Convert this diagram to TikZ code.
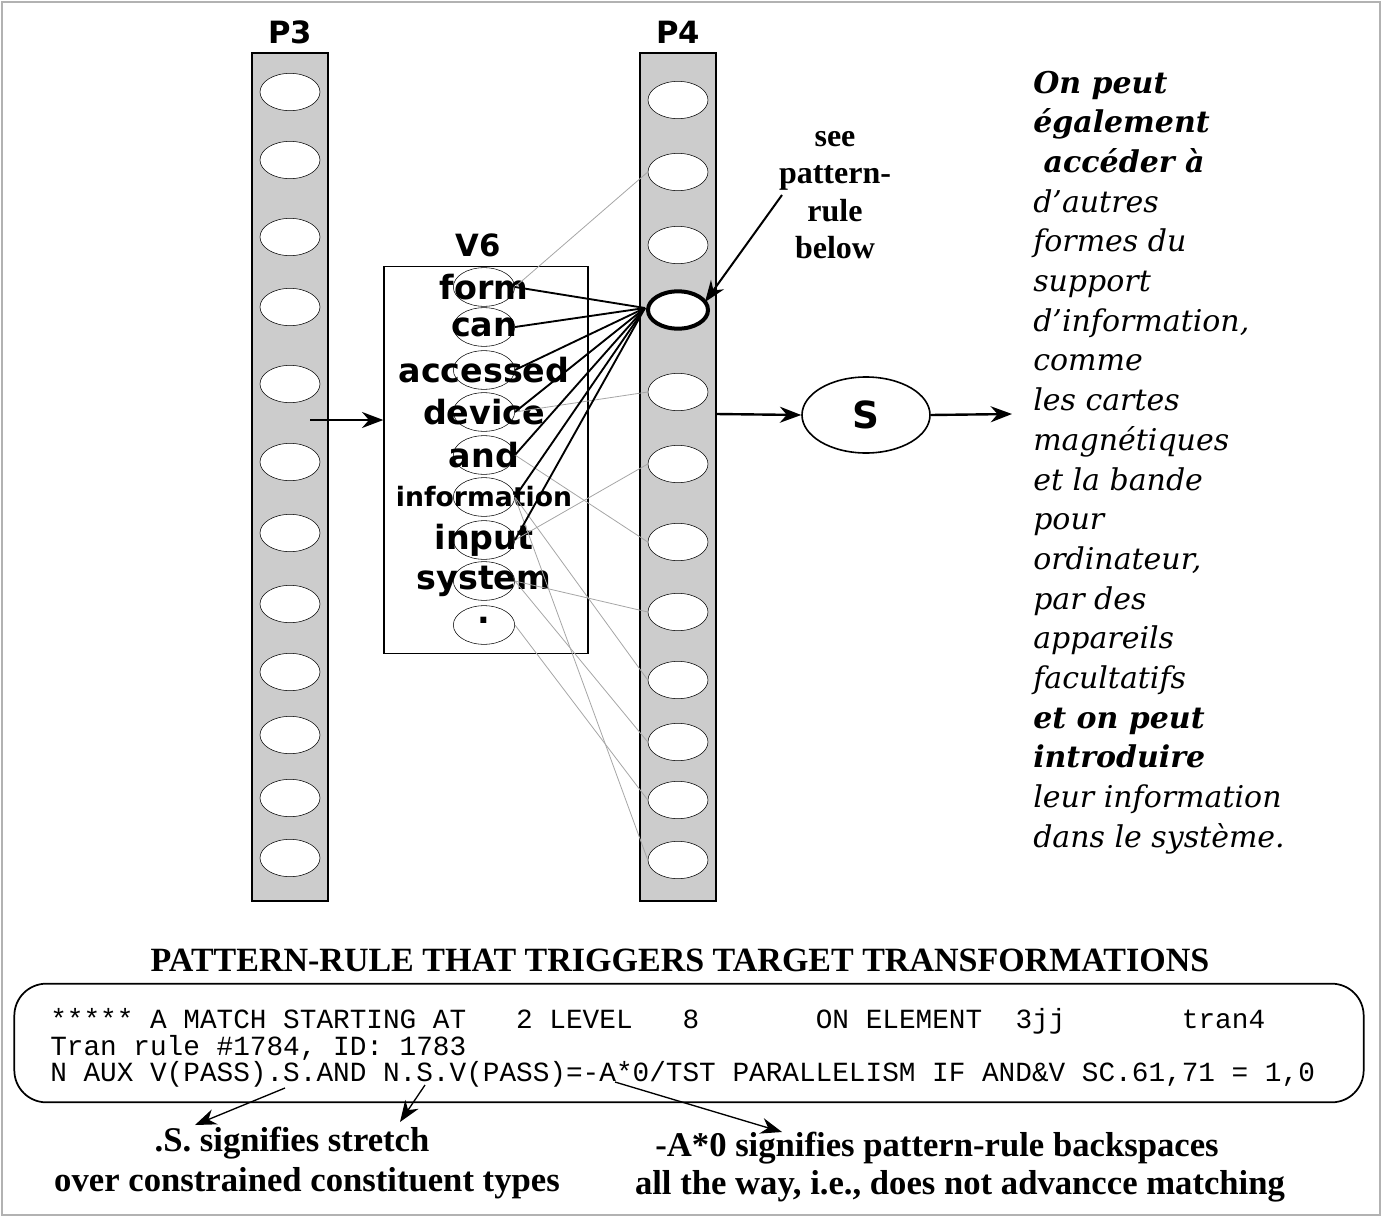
\documentclass[tikz,border=0pt]{standalone}
\usepackage{fontspec}
\setmainfont{DejaVu Serif}
\newfontfamily\dsans{DejaVu Sans}
\newfontfamily\lmono{Liberation Mono}
\newfontfamily\lserif{Liberation Serif}
\usetikzlibrary{arrows.meta,shapes.geometric}
\begin{document}
\begin{tikzpicture}[x=0.75pt,y=-0.75pt,
  bar/.style={draw,line width=1.2pt,fill=gray!40},
  cell/.style={draw,fill=white,ellipse,minimum width=45pt,minimum height=28pt,inner sep=0pt},
  wcell/.style={draw,fill=none,ellipse,minimum width=46pt,minimum height=29pt,inner sep=0pt},
  word/.style={font=\dsans\bfseries\fontsize{25}{25}\selectfont,inner sep=0pt},
  fr/.style={font=\fontsize{22.5}{24}\selectfont\itshape,anchor=base west,inner sep=0pt},
  arr/.style={-{Stealth[length=16pt,width=12pt]},line width=1.8pt},
  thin/.style={draw=gray!70,line width=0.6pt},
  lab/.style={font=\lserif\bfseries\fontsize{26}{26}\selectfont,inner sep=0pt}]
\useasboundingbox (0,0) rectangle (1382,1217);
\draw[gray!60,line width=1pt] (2,2) rectangle (1380,1215);
% bars
\node[bar,minimum width=57pt,minimum height=636pt,inner sep=0pt] (p3) at (290,477) {};
\node[bar,minimum width=57pt,minimum height=636pt,inner sep=0pt] (p4) at (678,477) {};
\node[font=\dsans\bfseries\fontsize{23}{23}\selectfont] (p3l) at (290,32) {P3};
\node[font=\dsans\bfseries\fontsize{23}{23}\selectfont] (p4l) at (678,32) {P4};
\foreach \y [count=\i] in {92,160,237,307,384,462,533,604,672,735,798,858}
  \node[cell] (a\i) at (290,\y) {};
\foreach \y [count=\i] in {100,172,245,310,392,464,542,612,680,742,800,860}
  \node[cell] (b\i) at (678,\y) {};
\node[cell,line width=3pt] at (b4) {};
% V6
\node[draw,line width=1pt,minimum width=153pt,minimum height=290pt,inner sep=0pt] (v6) at (486,460) {};
\node[font=\dsans\bfseries\fontsize{23}{23}\selectfont] (v6l) at (478,245) {V6};
\foreach \y [count=\i] in {287,327,370,412,455,497,540,581,625}
  \node[wcell] (c\i) at (484,\y) {};
\node[word] (w1) at (484,287) {form};
\node[word] (w2) at (484,327) {can};
\node[word] (w3) at (484,370) {accessed};
\node[word] (w4) at (484,412) {device};
\node[word] (w5) at (484,455) {and};
\node[word,font=\dsans\bfseries\fontsize{20}{20}\selectfont] (w6) at (484,497) {information};
\node[word] (w7) at (484,540) {input};
\node[word] (w8) at (484,581) {system};
\node[word] (w9) at (484,620) {.};
% connectors
\coordinate (hub) at (645,308);
\foreach \a/\b in {c1/b2, c4/b5, c7/b6, c5/b7, c6/b9, c8/b10, c9/b11, c6/b12, c8/b8}
  \draw[thin] (\a.east) -- (\b.west);
\foreach \c in {c1,c2,c3,c4,c5,c6,c7}
  \draw[line width=1.4pt] (\c.east) -- (hub);
% arrows
\coordinate (p3r) at (310,420);
\draw[arr] (p3r) -- (v6.west|-p3r);
\node[draw,ellipse,line width=1.2pt,minimum width=96pt,minimum height=57pt] (s) at (866,415) {\dsans\bfseries\fontsize{28}{28}\selectfont S};
\coordinate (p4r) at (716,414);
\draw[arr] (p4r) -- (s.west);
\coordinate (sout) at (1012,414);
\draw[arr] (s.east) -- (sout);
\node[font=\lserif\bfseries\fontsize{24}{28}\selectfont,align=center] (see) at (835,195) {see\\pattern-\\rule\\below};
\coordinate (seeT) at (705,302);
\draw[arr,line width=1.5pt] (782,195) -- (seeT);
% French text
\foreach \t [count=\i] in {{\bfseries On peut},{\bfseries également},{\bfseries\ accéder à},d'autres,formes du,support,{d'information,},comme,les cartes,magnétiques,et la bande,pour,{ordinateur,},par des,appareils,facultatifs,{\bfseries et on peut},{\bfseries introduire},leur information,dans le système.}
  \node[fr] (f\i) at (1033,{93+(\i-1)*39.7}) {\t};
% pattern rule
\node[font=\lserif\bfseries\fontsize{25.5}{25}\selectfont] (title) at (680,960) {PATTERN-RULE THAT TRIGGERS TARGET TRANSFORMATIONS};
\node[draw,line width=1.3pt,rounded corners=24pt,minimum width=1012pt,minimum height=89pt] (rb) at (689,1043) {};
\node[font=\lmono\fontsize{20.8}{20}\selectfont,anchor=west,align=left,inner sep=0pt] (code) at (50,1048)
  {***** A MATCH STARTING AT\ \ \ 2 LEVEL\ \ \ 8\ \ \ \ \ \ \ ON ELEMENT\ \ 3jj\ \ \ \ \ \ \ tran4\\Tran rule \#1784, ID: 1783\\N AUX V(PASS).S.AND N.S.V(PASS)=-A*0/TST PARALLELISM IF AND\&V SC.61,71 = 1,0};
\node[lab] (l1) at (292,1143) {.S. signifies stretch};
\node[lab] (l2) at (307,1183) {over constrained constituent types};
\node[lab] (l3) at (937,1148) {-A*0 signifies pattern-rule backspaces};
\node[lab] (l4) at (960,1186) {all the way, i.e., does not advancce matching};
\coordinate (q1) at (285,1088);
\coordinate (q2) at (425,1085);
\coordinate (q3) at (615,1082);
\draw[arr,line width=1pt] (q1) -- (195,1125);
\draw[arr,line width=1pt] (q2) -- (400,1122);
\draw[arr,line width=1pt] (q3) -- (782,1132);
\end{tikzpicture}
\end{document}
